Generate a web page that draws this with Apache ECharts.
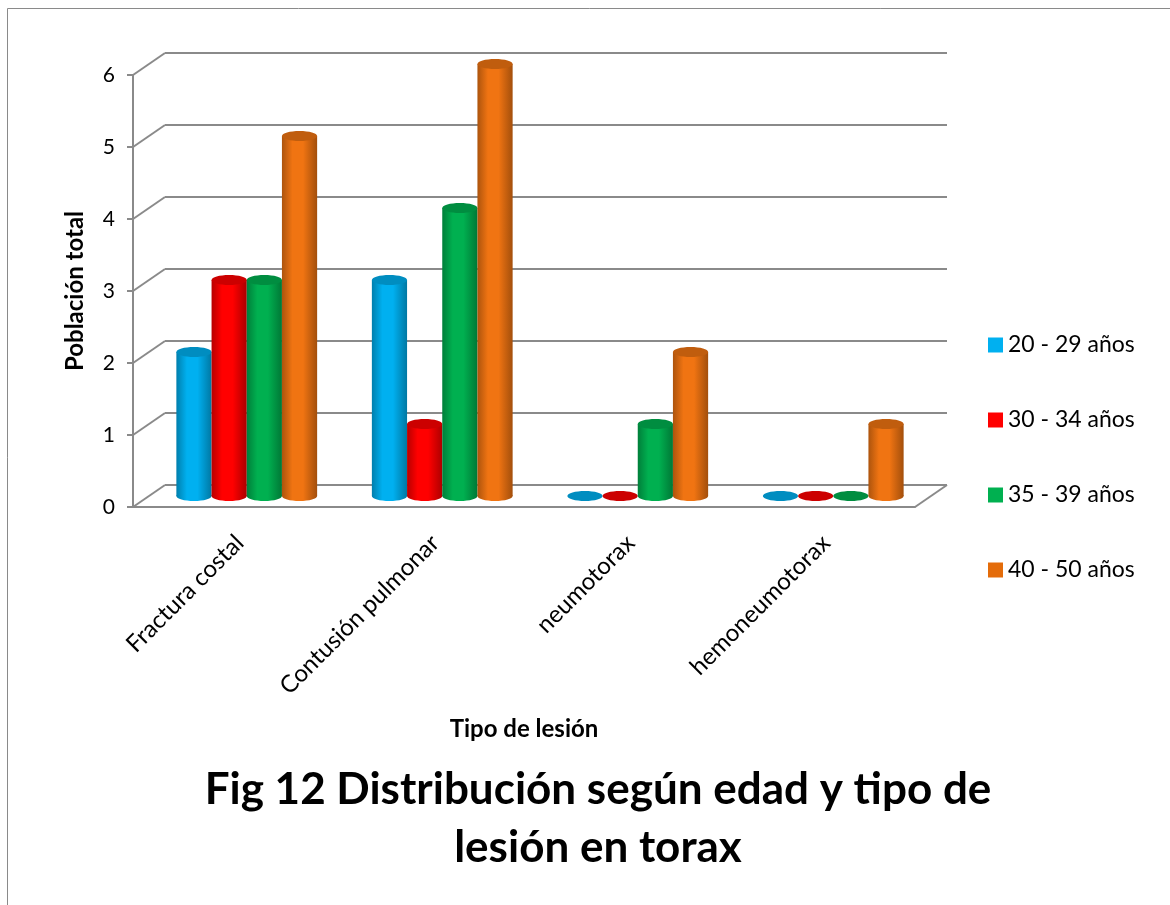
<!DOCTYPE html>
<html>
<head>
<meta charset="utf-8">
<script src="https://cdn.jsdelivr.net/npm/echarts@6/dist/echarts.min.js"></script>
<style>
  html, body { margin: 0; padding: 0; background: #fff; }
  #chart { width: 1170px; height: 905px; }
</style>
</head>
<body>
<div id="chart"></div>
<script>
// datos
const categorias = ['Fractura costal', 'Contusión pulmonar', 'neumotorax', 'hemoneumotorax'];
const grupos = ['20 - 29 años', '30 - 34 años', '35 - 39 años', '40 - 50 años'];
const edad20a29 = [2, 3, 0, 0];
const edad30a34 = [3, 1, 0, 0];
const edad35a39 = [3, 4, 1, 0];
const edad40a50 = [5, 6, 2, 1];
const ticksY = [0, 1, 2, 3, 4, 5, 6];

const valores = [edad20a29, edad30a34, edad35a39, edad40a50];
const colores = ['#00B0F0', '#FF0000', '#00B050', '#F07412'];
const coloresLeyenda = ['#00B0F0', '#FF0000', '#00B050', '#E46C0A'];
const gris = '#8a8a8a';
const fuente = 'Lato';

function sombra(hex, f) {
  const n = parseInt(hex.slice(1), 16);
  const r = Math.round(((n >> 16) & 255) * f);
  const g = Math.round(((n >> 8) & 255) * f);
  const b = Math.round((n & 255) * f);
  return 'rgb(' + r + ',' + g + ',' + b + ')';
}

// cilindro 3D
function cilindro(k, color) {
  return function (params, api) {
    const v = api.value(1);
    const top = api.coord([api.value(0), v]);
    const base = api.coord([api.value(0), 0]);
    const band = api.size([1, 0])[0];
    const w = band * 0.18;
    const cx = top[0] + (k - 1.5) * w;
    const rx = w / 2;
    const ry = 5;
    const grad = new echarts.graphic.LinearGradient(0, 0, 1, 0, [
      { offset: 0, color: sombra(color, 0.72) },
      { offset: 0.3, color: color },
      { offset: 0.6, color: color },
      { offset: 1, color: sombra(color, 0.68) }
    ]);
    const tapa = sombra(color, 0.8);
    if (v === 0) {
      return {
        type: 'ellipse',
        shape: { cx: cx, cy: base[1], rx: rx, ry: ry },
        style: { fill: tapa }
      };
    }
    return {
      type: 'group',
      children: [
        { type: 'rect', shape: { x: cx - rx, y: top[1], width: w, height: base[1] - top[1] }, style: { fill: grad } },
        { type: 'ellipse', shape: { cx: cx, cy: base[1], rx: rx, ry: ry }, style: { fill: grad } },
        { type: 'ellipse', shape: { cx: cx, cy: top[1], rx: rx, ry: ry }, style: { fill: tapa } }
      ]
    };
  };
}

// lineas diagonales del marco 3D
function diagonales(params, api) {
  const cs = params.coordSys;
  const y = api.coord([0, api.value(1)])[1];
  const kids = [
    { type: 'line', shape: { x1: cs.x, y1: y, x2: cs.x + 32, y2: y - 22 }, style: { stroke: gris, lineWidth: 2 } }
  ];
  if (api.value(1) === 0) {
    kids.push({ type: 'line', shape: { x1: cs.x + cs.width, y1: y, x2: cs.x + cs.width + 32, y2: y - 22 }, style: { stroke: gris, lineWidth: 2 } });
  }
  return { type: 'group', children: kids };
}

const chart = echarts.init(document.getElementById('chart'));

const series = grupos.map(function (g, k) {
  return {
    name: g,
    type: 'custom',
    xAxisIndex: 2,
    yAxisIndex: 2,
    itemStyle: { color: coloresLeyenda[k] },
    renderItem: cilindro(k, colores[k]),
    data: valores[k].map(function (v, i) { return [i, v]; }),
    z: 5
  };
});
series.unshift({
  type: 'custom',
  xAxisIndex: 0,
  yAxisIndex: 0,
  renderItem: diagonales,
  data: ticksY.map(function (t) { return [0, t]; }),
  silent: true,
  z: 1
});

const option = {
  animation: false,
  backgroundColor: '#fff',
  textStyle: { fontFamily: fuente },
  grid: [
    { left: 133, width: 782, top: 75, height: 432 },   // frente
    { left: 165, width: 782, top: 53, height: 432 },   // pared del fondo
    { left: 149, width: 782, top: 64, height: 432 }    // barras
  ],
  xAxis: [
    {
      gridIndex: 0, type: 'category', data: categorias,
      axisLine: { show: true, lineStyle: { color: gris, width: 2 } },
      axisTick: { show: false },
      axisLabel: { show: false },
      name: 'Tipo de lesión', nameLocation: 'middle', nameGap: 210,
      nameTextStyle: { fontFamily: fuente, fontWeight: 'bold', fontSize: 24, color: '#000' }
    },
    { gridIndex: 1, type: 'category', data: categorias, show: false },
    {
      gridIndex: 2, type: 'category', data: categorias,
      axisLine: { show: false }, axisTick: { show: false },
      axisLabel: { rotate: 45, margin: 36, padding: [0, 10, 0, 0], fontSize: 24, color: '#000', fontFamily: fuente, interval: 0 }
    }
  ],
  yAxis: [
    {
      gridIndex: 0, type: 'value', min: 0, max: 6, interval: 1,
      axisLine: { show: true, lineStyle: { color: gris, width: 2 } },
      axisTick: { show: true, length: 6, lineStyle: { color: gris, width: 2 } },
      axisLabel: { fontSize: 21, color: '#000', margin: 18, fontFamily: fuente },
      splitLine: { show: false },
      name: 'Población total', nameLocation: 'middle', nameGap: 46,
      nameTextStyle: { fontFamily: fuente, fontWeight: 'bold', fontSize: 24, color: '#000' }
    },
    {
      gridIndex: 1, type: 'value', min: 0, max: 6, interval: 1,
      axisLine: { show: false }, axisTick: { show: false }, axisLabel: { show: false },
      splitLine: { show: true, lineStyle: { color: gris, width: 2 } }
    },
    {
      gridIndex: 2, type: 'value', min: 0, max: 6, interval: 1, show: false,
      splitLine: { show: false }
    }
  ],
  legend: {
    data: grupos,
    orient: 'vertical',
    left: 983,
    top: 326,
    icon: 'rect',
    itemWidth: 15,
    itemHeight: 15,
    itemGap: 47,
    textStyle: { fontSize: 23, color: '#000', fontFamily: fuente, lineHeight: 28 }
  },
  graphic: [
    {
      type: 'rect', silent: true,
      shape: { x: 7.5, y: 8.5, width: 1300, height: 1000 },
      style: { fill: 'none', stroke: '#8a8a8a', lineWidth: 1 }
    },
    {
      type: 'text', x: 598, y: 819,
      style: {
        text: 'Fig 12 Distribución según edad y tipo de\nlesión en torax',
        font: 'bold 44px ' + fuente,
        fill: '#000',
        align: 'center',
        verticalAlign: 'middle',
        lineHeight: 58
      }
    }
  ],
  series: series
};

chart.setOption(option);
</script>
</body>
</html>
